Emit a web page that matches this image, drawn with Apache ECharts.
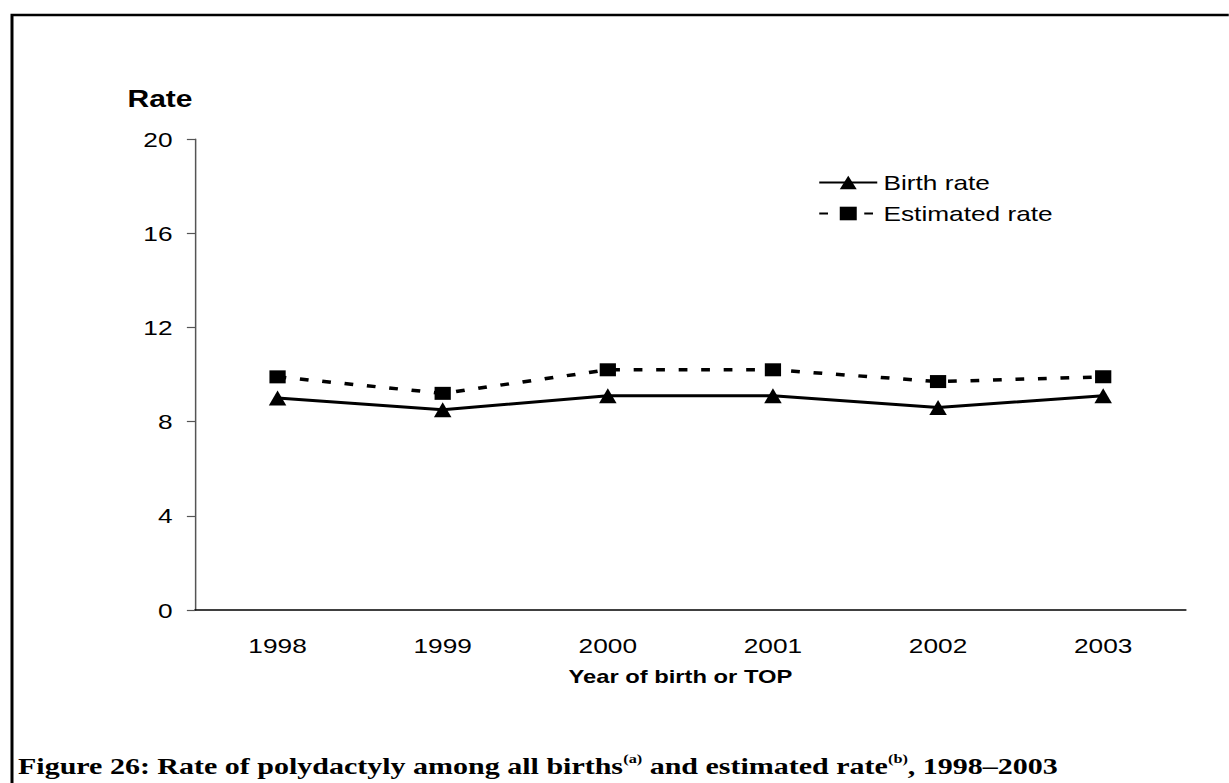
<!DOCTYPE html>
<html><head><meta charset="utf-8">
<script src="https://cdn.jsdelivr.net/npm/echarts@6/dist/echarts.min.js"></script>
<style>
html,body{margin:0;padding:0;background:#fff;overflow:hidden;}
#wrap{width:1229px;height:783px;overflow:hidden;position:relative;}
#chart{width:983.2px;height:783px;transform:scaleX(1.25);transform-origin:0 0;}
</style></head><body>
<div id="wrap"><div id="chart"></div></div>
<script>
const years = ['1998', '1999', '2000', '2001', '2002', '2003'];
const birthRate = [9.0, 8.5, 9.1, 9.1, 8.6, 9.1];
const estimatedRate = [9.9, 9.2, 10.2, 10.2, 9.7, 9.9];
const seriesNames = ['Birth rate', 'Estimated rate'];
const yMin = 0, yMax = 20, yInterval = 4;
const yAxisTitle = 'Rate';
const xAxisTitle = 'Year of birth or TOP';
const captionParts = ['Figure 26: Rate of polydactyly among all births', '(a)', ' and estimated rate', '(b)', ', 1998\u20132003'];

const sans = 'Liberation Sans, Arial, sans-serif';
const serif = 'Liberation Serif, Times New Roman, serif';

const chart = echarts.init(document.getElementById('chart'), null, {renderer: 'svg'});
chart.setOption({
  animation: false,
  backgroundColor: '#fff',
  grid: {left: 156, right: 34.4, top: 139, bottom: 173, containLabel: false},
  legend: {
    orient: 'vertical', left: 649.4, top: 167,
    itemWidth: 46.4, itemHeight: 17, itemGap: 10,
    textStyle: {fontFamily: sans, fontSize: 21, color: '#000'},
    data: seriesNames
  },
  xAxis: {
    type: 'category', data: years, boundaryGap: true,
    name: xAxisTitle, nameLocation: 'middle', nameGap: 57,
    nameTextStyle: {fontFamily: sans, fontSize: 19, fontWeight: 'bold', color: '#000', padding: [0, 16, 0, 0]},
    axisLine: {lineStyle: {color: '#000', width: 1.5}},
    axisTick: {length: 7, lineStyle: {color: '#333', width: 1.2}},
    axisLabel: {margin: 25, fontFamily: sans, fontSize: 21, color: '#000'}
  },
  yAxis: {
    type: 'value', min: yMin, max: yMax, interval: yInterval,
    axisLine: {show: true, lineStyle: {color: '#555', width: 1.2}},
    axisTick: {show: true, length: 6.5, lineStyle: {color: '#555', width: 1.2}},
    axisLabel: {margin: 18, fontFamily: sans, fontSize: 21, color: '#000'},
    splitLine: {show: false}
  },
  series: [
    {
      name: seriesNames[0], type: 'line', data: birthRate,
      symbol: 'triangle', symbolSize: [14, 15],
      lineStyle: {color: '#000', width: 3, type: 'solid'},
      itemStyle: {color: '#000'}
    },
    {
      name: seriesNames[1], type: 'line', data: estimatedRate,
      symbol: 'rect', symbolSize: 13,
      lineStyle: {color: '#000', width: 3.5, type: [7, 11]},
      itemStyle: {color: '#000'}
    }
  ],
  graphic: [
    {type: 'rect', z: -1, silent: true,
     shape: {x: 9.6, y: 15, width: 1200, height: 1000},
     style: {fill: 'none', stroke: '#000', lineWidth: 2.4}},
    {type: 'text', left: 102, top: 87,
     style: {text: yAxisTitle, fontFamily: sans, fontSize: 24, fontWeight: 'bold', fill: '#000'}},
    {type: 'text', x: 14.4, y: 766,
     style: {
       text: '{b|' + captionParts[0] + '}{s|' + captionParts[1] + '}{b|' + captionParts[2] + '}{s|' + captionParts[3] + '}{b|' + captionParts[4] + '}',
       verticalAlign: 'middle',
       rich: {
         b: {fontFamily: serif, fontWeight: 'bold', fontSize: 24, fill: '#000', verticalAlign: 'middle', lineHeight: 27},
         s: {fontFamily: serif, fontWeight: 'bold', fontSize: 13, fill: '#000', verticalAlign: 'top', lineHeight: 27}
       }
     }}
  ]
});
</script>
</body></html>
